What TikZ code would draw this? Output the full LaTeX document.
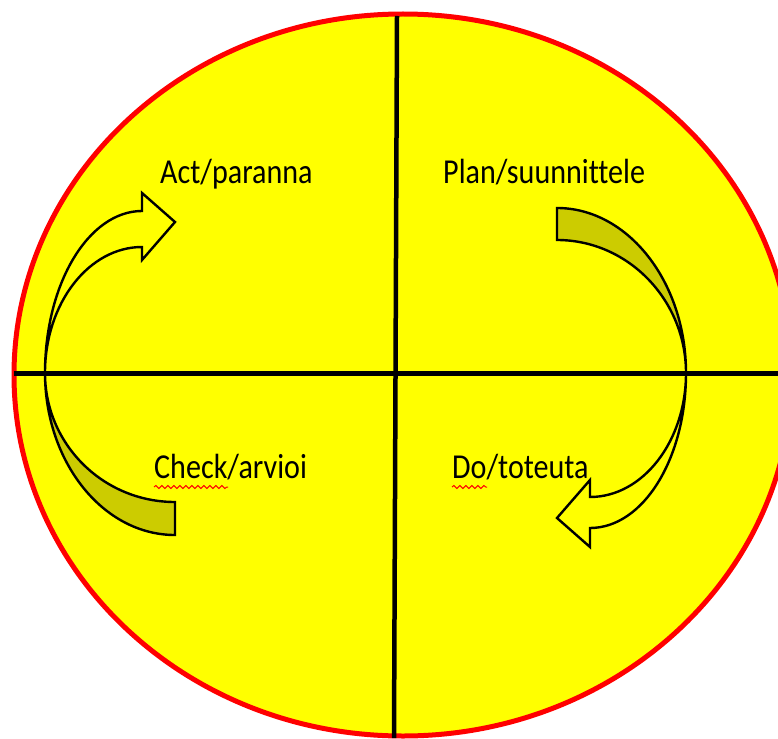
\documentclass[tikz,border=0pt]{standalone}
\usepackage{fontspec}
\newfontfamily\phasefont{Carlito}[FakeStretch=0.86, Ligatures=NoCommon]
\usetikzlibrary{decorations.pathmorphing}
\definecolor{cycleyellow}{RGB}{255,255,0}
\definecolor{cycleolive}{RGB}{204,204,0}
\definecolor{cyclered}{RGB}{255,0,0}

\begin{document}
\begin{tikzpicture}[
  x=1pt, y=-1pt,
  axis/.style={draw=black, line width=4.5pt},
  front/.style={draw=black, line width=2.4pt, fill=cycleyellow, line join=miter},
  back/.style={draw=black, line width=2.4pt, fill=cycleolive},
  phase/.style={anchor=base west, inner sep=0pt, font=\phasefont\fontsize{35}{40}\selectfont},
  typo/.style={draw=cyclered, line width=1pt, decorate, decoration={snake, amplitude=1.5pt, segment length=6pt}}
]
\useasboundingbox (0,0) rectangle (778,738);
\clip (0,0) rectangle (778,738);

% background disc
\draw[cyclered, line width=5pt, fill=cycleyellow] (403,375) ellipse [x radius=389pt, y radius=361pt];

% quadrant lines
\draw[axis] (397,16) -- (394,738);
\draw[axis, line width=5pt] (14,373) -- (778,373);

% left arrow: check -> act
\draw[back] (45,373) .. controls (45,462) and (103,535) .. (175,535)
  -- (175,502) .. controls (103,502) and (45,444) .. cycle;
\draw[front] (45,373) .. controls (45,283) and (89,211) .. (142,211)
  -- (142,193) -- (175,222) -- (142,260) -- (142,247)
  .. controls (89,247) and (45,303) .. cycle;

% right arrow: plan -> do
\draw[back] (557,208) .. controls (628,208) and (686,282) .. (686,373)
  .. controls (686,300) and (628,240) .. (557,240) -- cycle;
\draw[front] (686,373) .. controls (686,459) and (643,528) .. (590,528)
  -- (590,547) -- (557,518) -- (590,480) -- (590,497)
  .. controls (643,497) and (686,441) .. cycle;

% quadrant labels
\node[phase] (act) at (160,183) {Act/paranna};
\node[phase] (plan) at (443,183) {Plan/suunnittele};
\node[phase] (check) at (154,478) {Check/arvioi};
\node[phase] (do) at (452,478) {Do/toteuta};

% spell-check marks
\draw[typo] ([yshift=-9pt]check.base west) -- ++(74,0);
\draw[typo] ([yshift=-9pt]do.base west) -- ++(35,0);

\end{tikzpicture}
\end{document}
